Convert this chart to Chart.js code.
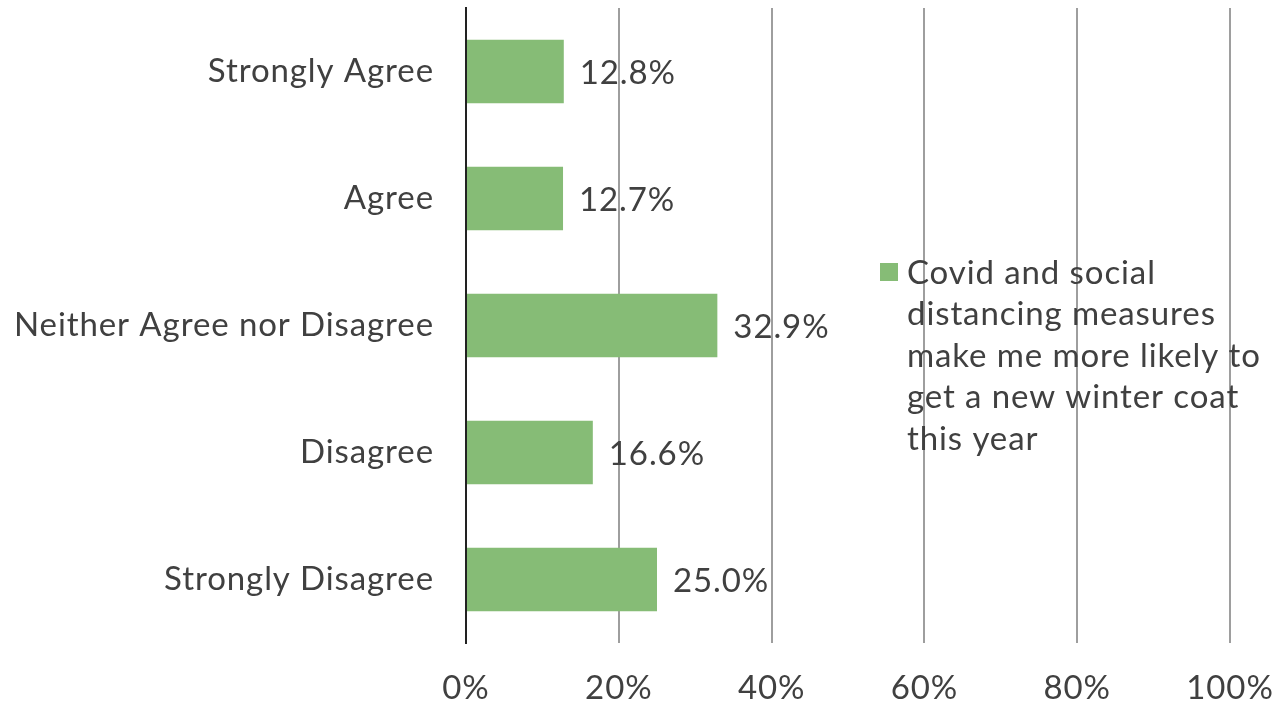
<!DOCTYPE html>
<html>
<head>
<meta charset="utf-8">
<script src="https://cdn.jsdelivr.net/npm/chart.js@4/dist/chart.umd.min.js"></script>
<style>
  html, body { margin: 0; padding: 0; background: #fff; }
  #wrap { width: 1274px; height: 706px; position: relative; }
</style>
</head>
<body>
<div id="wrap"><canvas id="coatChart"></canvas></div>
<script>
// Survey answers, top to bottom
const categories = ['Strongly Agree', 'Agree', 'Neither Agree nor Disagree', 'Disagree', 'Strongly Disagree'];
const shares = [12.8, 12.7, 32.9, 16.6, 25.0];
const xTicks = [0, 20, 40, 60, 80, 100];
const seriesLabel = ['Covid and social', 'distancing measures', 'make me more likely to', 'get a new winter coat', 'this year'];

const FONT = 'Lato, "Open Sans", sans-serif';
const FONT_SIZE = 33;
const TEXT = '#404040';
const GREEN = '#86bc76';

// slightly wider tracking for every label on the canvas
const tracking = {
    id: 'tracking',
    beforeDraw(chart) {
        chart.ctx.letterSpacing = '0.9px';
    }
};

// value labels just past the end of each bar
const valueLabels = {
    id: 'valueLabels',
    afterDatasetsDraw(chart) {
        const ctx = chart.ctx;
        const meta = chart.getDatasetMeta(0);
        ctx.save();
        ctx.font = FONT_SIZE + 'px ' + FONT;
        ctx.fillStyle = TEXT;
        ctx.textBaseline = 'middle';
        ctx.textAlign = 'left';
        meta.data.forEach((bar, i) => {
            ctx.fillText(shares[i].toFixed(1) + '%', bar.x + 16, bar.y + 2);
        });
        ctx.restore();
    }
};

// wrapped legend sitting inside the plot on the right
const sideLegend = {
    id: 'sideLegend',
    afterDraw(chart) {
        const ctx = chart.ctx;
        ctx.save();
        ctx.fillStyle = GREEN;
        ctx.fillRect(880, 263, 18, 18);
        ctx.font = FONT_SIZE + 'px ' + FONT;
        ctx.fillStyle = TEXT;
        ctx.textBaseline = 'middle';
        ctx.textAlign = 'left';
        seriesLabel.forEach((line, i) => {
            ctx.fillText(line, 907, 273 + i * 41.5);
        });
        ctx.restore();
    }
};

new Chart(document.getElementById('coatChart'), {
    type: 'bar',
    data: {
        labels: categories,
        datasets: [{
            label: seriesLabel.join(' '),
            data: shares,
            backgroundColor: GREEN,
            borderWidth: 0,
            categoryPercentage: 1,
            barPercentage: 0.5
        }]
    },
    options: {
        indexAxis: 'y',
        responsive: true,
        maintainAspectRatio: false,
        animation: false,
        layout: { autoPadding: false, padding: { top: 8, right: 44, bottom: 0, left: 0 } },
        plugins: {
            legend: { display: false },
            tooltip: { enabled: false }
        },
        scales: {
            x: {
                min: 0,
                max: 100,
                z: 1,
                afterBuildTicks: scale => { scale.ticks = xTicks.map(v => ({ value: v })); },
                afterFit: scale => {
                    scale.height = 63;
                    scale.paddingLeft = 0;
                    scale.paddingRight = 0;
                },
                grid: {
                    color: c => (c.tick && c.tick.value === 0) ? 'rgba(0,0,0,0)' : 'rgba(0,0,0,0.38)',
                    lineWidth: 2,
                    drawTicks: false
                },
                border: { display: false },
                ticks: {
                    padding: 26,
                    maxRotation: 0,
                    color: TEXT,
                    font: { family: FONT, size: FONT_SIZE },
                    callback: v => v + '%'
                }
            },
            y: {
                afterFit: scale => {
                    scale.width = 466;
                    scale.paddingTop = 0;
                    scale.paddingBottom = 0;
                },
                grid: { display: false, drawTicks: false },
                border: { display: true, color: '#222', width: 2 },
                ticks: {
                    padding: 32,
                    color: TEXT,
                    font: { family: FONT, size: FONT_SIZE }
                }
            }
        }
    },
    plugins: [tracking, valueLabels, sideLegend]
});
</script>
</body>
</html>
